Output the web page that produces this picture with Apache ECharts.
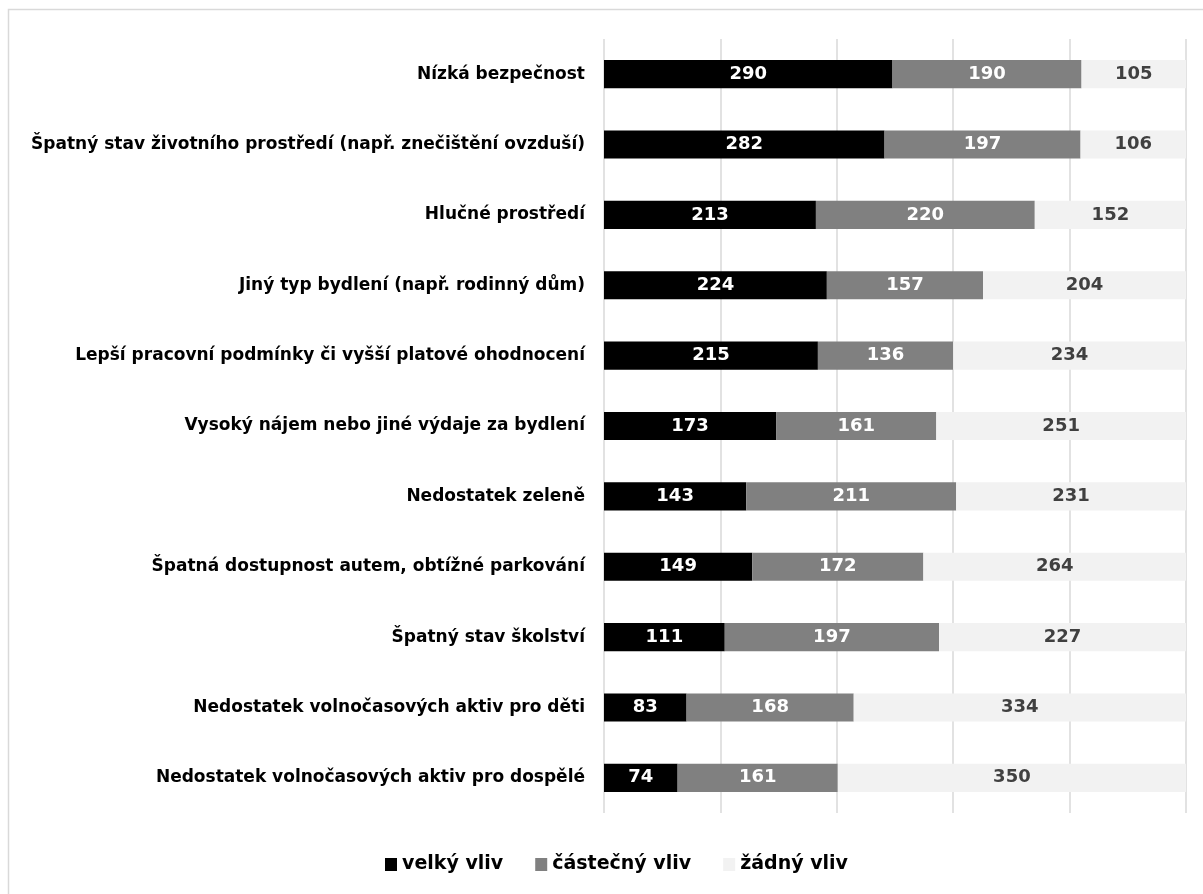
<!DOCTYPE html>
<html>
<head>
<meta charset="utf-8">
<script src="https://cdn.jsdelivr.net/npm/echarts@6/dist/echarts.min.js"></script>
<style>
html,body{margin:0;padding:0;background:#fff;}
#chart{width:1203px;height:894px;}
</style>
</head>
<body>
<div id="chart"></div>
<script>
const categories = [
  "Nízká bezpečnost",
  "Špatný stav životního prostředí (např. znečištění ovzduší)",
  "Hlučné prostředí",
  "Jiný typ bydlení (např. rodinný dům)",
  "Lepší pracovní podmínky či vyšší platové ohodnocení",
  "Vysoký nájem nebo jiné výdaje za bydlení",
  "Nedostatek zeleně",
  "Špatná dostupnost autem, obtížné parkování",
  "Špatný stav školství",
  "Nedostatek volnočasových aktiv pro děti",
  "Nedostatek volnočasových aktiv pro dospělé"
];
const seriesNames = ["velký vliv", "částečný vliv", "žádný vliv"];
const velky = [290, 282, 213, 224, 215, 173, 143, 149, 111, 83, 74];
const castecny = [190, 197, 220, 157, 136, 161, 211, 172, 197, 168, 161];
const zadny = [105, 106, 152, 204, 234, 251, 231, 264, 227, 334, 350];
const xTicks = [0, 20, 40, 60, 80, 100];

const FONT = "'DejaVu Sans', 'Open Sans', sans-serif";
const rowTotals = velky.map((v, i) => v + castecny[i] + zadny[i]);

const chart = echarts.init(document.getElementById('chart'), null, {renderer: 'canvas'});
function mk(name, data, color, labelColor) {
  return {
    name: name,
    type: 'bar',
    stack: 'all',
    data: data.map((v, i) => ({value: v / rowTotals[i] * 100, raw: v})),
    barCategoryGap: '60%',
    itemStyle: {color: color},
    label: {
      show: true,
      position: 'inside',
      color: labelColor,
      fontFamily: FONT,
      fontWeight: 'bold',
      fontSize: 18,
      formatter: p => String(p.data.raw)
    },
    emphasis: {disabled: true}
  };
}
chart.setOption({
  animation: false,
  backgroundColor: '#ffffff',
  graphic: [{
    type: 'rect',
    shape: {x: 8.5, y: 9.5, width: 1400, height: 1000},
    style: {fill: 'none', stroke: '#d9d9d9', lineWidth: 1.5},
    silent: true
  }],
  grid: {left: 604, right: 17, top: 39, bottom: 81, containLabel: false},
  legend: {
    bottom: 15,
    left: 380,
    itemWidth: 12,
    itemHeight: 13,
    itemGap: 32,
    icon: 'rect',
    textStyle: {fontFamily: FONT, fontWeight: 'bold', fontSize: 19, color: '#000', padding: [0, 0, 0, 0]},
    data: seriesNames
  },
  xAxis: {
    type: 'value',
    min: xTicks[0],
    max: xTicks[xTicks.length - 1],
    interval: xTicks[1] - xTicks[0],
    axisLabel: {show: false},
    axisLine: {show: false},
    axisTick: {show: false},
    splitLine: {show: true, lineStyle: {color: '#d9d9d9', width: 1.5}}
  },
  yAxis: {
    type: 'category',
    inverse: true,
    data: categories,
    axisLine: {show: false},
    axisTick: {show: false},
    axisLabel: {
      margin: 19,
      color: '#000',
      fontFamily: FONT,
      fontWeight: 'bold',
      fontSize: 17
    }
  },
  series: [
    mk(seriesNames[0], velky, '#000000', '#ffffff'),
    mk(seriesNames[1], castecny, '#808080', '#ffffff'),
    mk(seriesNames[2], zadny, '#f2f2f2', '#404040')
  ]
});
</script>
</body>
</html>
